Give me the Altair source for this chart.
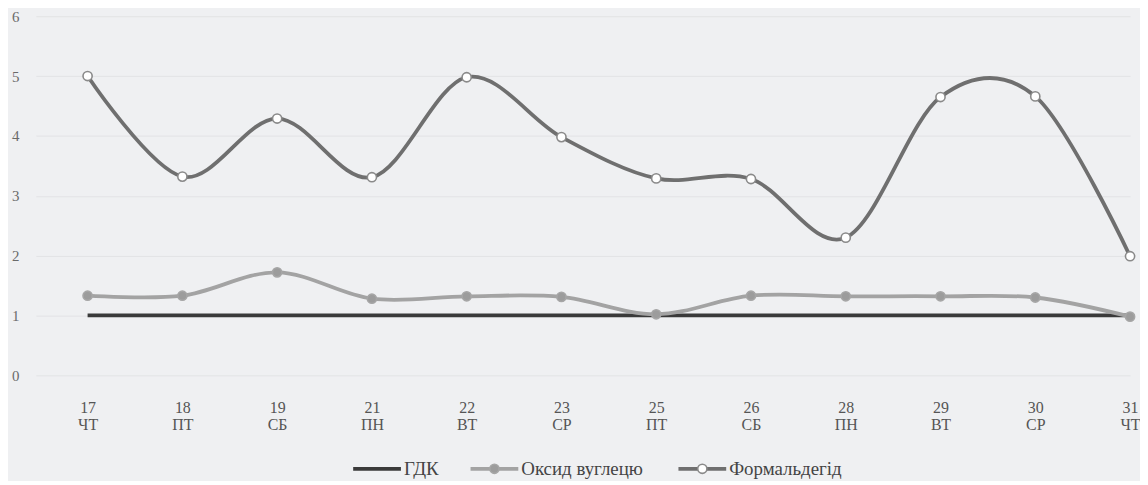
import json
import altair as alt
import pandas as pd

# ---- data ----
days = ["17", "18", "19", "21", "22", "23", "25", "26", "28", "29", "30", "31"]
weekdays = ["ЧТ", "ПТ", "СБ", "ПН", "ВТ", "СР", "ПТ", "СБ", "ПН", "ВТ", "СР", "ЧТ"]
gdk = [1.0, 1.0, 1.0, 1.0, 1.0, 1.0, 1.0, 1.0, 1.0, 1.0, 1.0, 1.0]
carbon_monoxide = [1.33, 1.33, 1.72, 1.28, 1.32, 1.31, 1.02, 1.33, 1.32, 1.32, 1.30, 0.98]
formaldehyde = [5.0, 3.32, 4.29, 3.31, 4.98, 3.98, 3.29, 3.28, 2.30, 4.65, 4.66, 1.99]
series_names = ["ГДК", "Оксид вуглецю", "Формальдегід"]
y_ticks = [0, 1, 2, 3, 4, 5, 6]

# ---- styling ----
FONT = "Liberation Serif"
line_colors = ["#3a3a3a", "#a3a3a3", "#6f6f6f"]
fill_colors = ["#3a3a3a", "#9c9c9c", "#ffffff"]
stroke_colors = ["#3a3a3a", "#a6a6a6", "#8a8a8a"]
BG = "#eff0f2"

rows = []
for name, vals in zip(series_names, [gdk, carbon_monoxide, formaldehyde]):
    for i, v in enumerate(vals):
        rows.append({"idx": i, "value": v, "series": name})
df = pd.DataFrame(rows)

color_scale = alt.Scale(domain=series_names, range=line_colors)
fill_scale = alt.Scale(domain=series_names, range=fill_colors)
stroke_scale = alt.Scale(domain=series_names, range=stroke_colors)

label_expr = (f"[{json.dumps(days, ensure_ascii=False)}[datum.value], "
              f"{json.dumps(weekdays, ensure_ascii=False)}[datum.value]]")

x_enc = alt.X(
    "idx:Q",
    scale=alt.Scale(domain=[-0.546, 11.0], nice=False, zero=False),
    axis=alt.Axis(
        title=None, values=list(range(len(days))), labelExpr=label_expr,
        labelAngle=0, domain=False, ticks=False, grid=False, labelPadding=24,
        labelFont=FONT, labelFontSize=16, labelLineHeight=17,
        labelColor="#555555", labelBaseline="top", labelFlush=False,
        labelOverlap=False,
    ),
)
y_enc = alt.Y(
    "value:Q",
    scale=alt.Scale(domain=[0, 6], nice=False, zero=True),
    axis=alt.Axis(
        title=None, values=y_ticks, domain=False, ticks=False, grid=True,
        gridColor="#e2e3e5", gridWidth=1, labelPadding=17,
        labelFont=FONT, labelFontSize=15, labelColor="#6a6a6a",
    ),
)

base = alt.Chart(df)

layers = []
for name in series_names:
    layers.append(
        base.transform_filter(alt.datum.series == name)
        .mark_line(interpolate="cardinal", tension=0, strokeWidth=3.8)
        .encode(x=x_enc, y=y_enc,
                color=alt.Color("series:N", scale=color_scale, legend=None))
    )
for name in series_names[1:]:
    layers.append(
        base.transform_filter(alt.datum.series == name)
        .mark_point(shape="circle", size=85, strokeWidth=1.6, opacity=1)
        .encode(x=x_enc, y=y_enc,
                fill=alt.Fill("series:N", scale=fill_scale, legend=None),
                stroke=alt.Stroke("series:N", scale=stroke_scale, legend=None))
    )

# ---- custom legend below the plot ----
LEG_Y = 455
leg_line_start = [319, 437, 646]
leg_line_len = 48
for i, name in enumerate(series_names):
    ldf = pd.DataFrame({"series": [name]})
    x0 = leg_line_start[i]
    layers.append(
        alt.Chart(ldf).mark_rule(strokeWidth=3.8).encode(
            x=alt.value(x0), x2=alt.value(x0 + leg_line_len), y=alt.value(LEG_Y),
            color=alt.Color("series:N", scale=color_scale, legend=None))
    )
    if i > 0:
        layers.append(
            alt.Chart(ldf).mark_point(shape="circle", size=85, strokeWidth=1.6, opacity=1).encode(
                x=alt.value(x0 + leg_line_len / 2), y=alt.value(LEG_Y),
                fill=alt.Fill("series:N", scale=fill_scale, legend=None),
                stroke=alt.Stroke("series:N", scale=stroke_scale, legend=None))
        )
    layers.append(
        alt.Chart(ldf).mark_text(align="left", baseline="middle", font=FONT,
                                 fontSize=19, color="#444444").encode(
            x=alt.value(x0 + leg_line_len + 3), y=alt.value(LEG_Y),
            text="series:N")
    )

chart = (
    alt.layer(*layers)
    .properties(width=1100, height=361,
                padding={"left": 28, "top": 7, "right": 10, "bottom": 105},
                autosize=alt.AutoSizeParams(type="none"))
    .configure(background=BG)
    .configure_view(stroke=None)
)

chart.save("out.html", embed_options={"renderer": "svg", "actions": False})
